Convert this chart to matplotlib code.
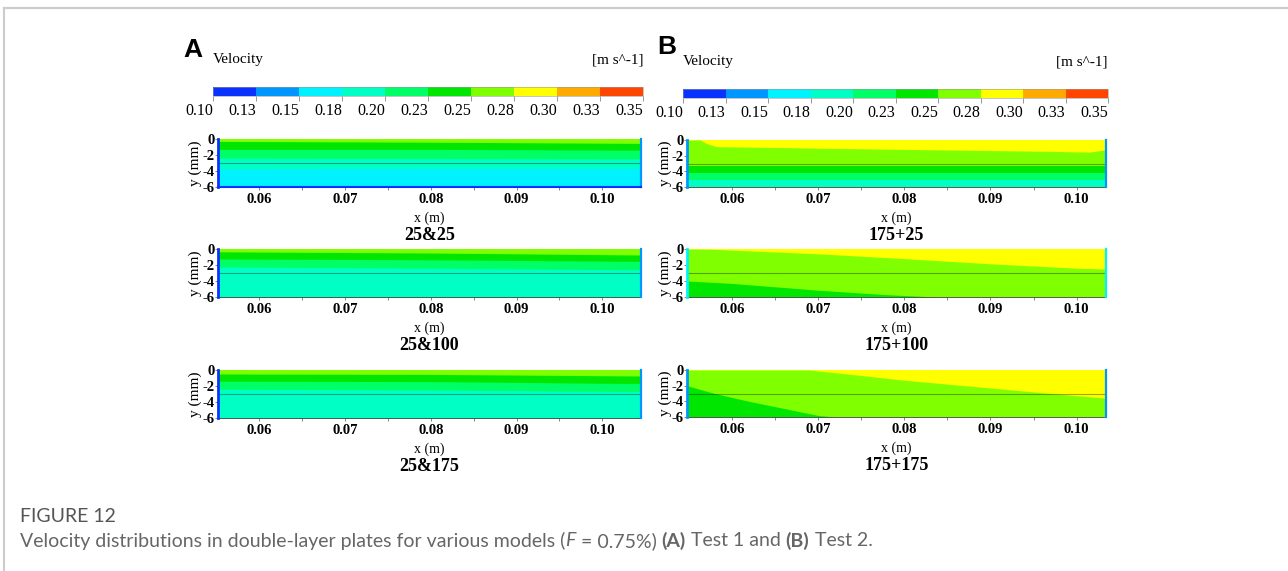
import matplotlib
matplotlib.use("Agg")
import matplotlib.pyplot as plt
from matplotlib.colors import ListedColormap, BoundaryNorm
from matplotlib.cm import ScalarMappable
from matplotlib.lines import Line2D

W, H = 1288, 571

# colour legend (10 bands, ANSYS style)
LEVELS = [0.10, 0.125, 0.15, 0.175, 0.20, 0.225, 0.25, 0.275, 0.30, 0.325, 0.35]
LEVEL_LABELS = ["0.10", "0.13", "0.15", "0.18", "0.20", "0.23",
                "0.25", "0.28", "0.30", "0.33", "0.35"]
BAND_COLORS = ["#0a32ff", "#0096ff", "#00f2ff", "#00ffc4", "#00ff66",
               "#00e600", "#80ff00", "#ffff00", "#ffaa00", "#ff4600"]

Y_TICKS = [0, -2, -4, -6]
Y_TICK_LABELS = ["0", "-2", "-4", "-6"]
X_TICKS = [0.06, 0.07, 0.08, 0.09, 0.10]
X_TICK_LABELS = ["0.06", "0.07", "0.08", "0.09", "0.10"]
X_MINOR = [0.065, 0.075, 0.085, 0.095]
INTERFACE_Y = -3.0
PLATE_Y = (0.0, -6.0)

# x extent of the plates
A_XRANGE = [0.0552, 0.1045]
B_XRANGE = [0.0548, 0.1034]

# band boundaries: (band below, x stations, y of boundary in mm)
A1_BOUNDS = [
    (5, [0.0552, 0.08, 0.1045], [-0.3, -0.4, -0.55]),
    (4, [0.0552, 0.08, 0.1045], [-1.3, -1.3, -1.4]),
    (3, [0.0552, 0.08, 0.1045], [-2.4, -2.45, -2.5]),
    (2, [0.0552, 0.08, 0.1045], [-3.75, -3.7, -3.7]),
]
A2_BOUNDS = [
    (5, [0.0552, 0.08, 0.1045], [-0.35, -0.5, -0.75]),
    (4, [0.0552, 0.08, 0.1045], [-1.25, -1.35, -1.55]),
    (3, [0.0552, 0.08, 0.1045], [-2.25, -2.4, -2.6]),
]
A3_BOUNDS = [
    (5, [0.0552, 0.08, 0.1045], [-0.5, -0.55, -0.75]),
    (4, [0.0552, 0.08, 0.1045], [-1.4, -1.45, -1.7]),
    (3, [0.0552, 0.08, 0.1045], [-2.4, -2.5, -2.7]),
]
B1_BOUNDS = [
    (6, [0.0548, 0.0563, 0.0572, 0.0582, 0.065, 0.07, 0.08, 0.09, 0.097, 0.1014, 0.1034],
        [0.0, 0.0, -0.5, -0.85, -0.95, -1.05, -1.2, -1.35, -1.45, -1.55, -1.25]),
    (5, [0.0548, 0.1034], [-3.35, -3.35]),
    (4, [0.0548, 0.1034], [-4.15, -4.15]),
    (3, [0.0548, 0.1034], [-5.05, -5.05]),
]
B2_BOUNDS = [
    (6, [0.0548, 0.058, 0.07, 0.08, 0.09, 0.10, 0.1034],
        [0.0, -0.05, -0.6, -1.2, -1.85, -2.4, -2.5]),
    (5, [0.0548, 0.06, 0.07, 0.0778, 0.0837],
        [-4.0, -4.3, -5.15, -5.7, -6.0]),
]
B3_BOUNDS = [
    (6, [0.0548, 0.069, 0.075, 0.08, 0.09, 0.097, 0.1034],
        [0.0, 0.0, -0.7, -1.3, -2.3, -3.0, -3.6]),
    (5, [0.0548, 0.058, 0.062, 0.066, 0.070, 0.072],
        [-2.0, -3.0, -4.0, -4.9, -5.8, -6.0]),
]

A_TITLES = ["25&25", "25&100", "25&175"]
B_TITLES = ["175+25", "175+100", "175+175"]

CAPTION_HEAD = "FIGURE 12"
CAPTION_PARTS = [
    ("Velocity distributions in double-layer plates for various models (", "normal", "normal"),
    ("F", "normal", "italic"),
    (" = 0.75%) ", "normal", "normal"),
    ("(A)", "bold", "normal"),
    (" Test 1 and ", "normal", "normal"),
    ("(B)", "bold", "normal"),
    (" Test 2.", "normal", "normal"),
]

SERIF = "Liberation Serif"
cmap = ListedColormap(BAND_COLORS)
norm = BoundaryNorm(LEVELS, cmap.N)


def px_rect(x0, y0, x1, y1):
    return [x0 / W, 1 - y1 / H, (x1 - x0) / W, (y1 - y0) / H]


def draw_colorbar(fig, rect, letter, letter_xy, label_y):
    cax = fig.add_axes(px_rect(*rect))
    cb = fig.colorbar(ScalarMappable(norm=norm, cmap=cmap), cax=cax,
                      orientation="horizontal", ticks=LEVELS)
    cb.outline.set_linewidth(0.4)
    cb.outline.set_edgecolor("#999999")
    cax.set_xticklabels(LEVEL_LABELS, fontfamily=SERIF, fontsize=11.5, ha="right")
    cax.tick_params(axis="x", length=3.5, width=0.6, color="#888888", pad=1.5)
    x0, y0, x1, y1 = rect
    fig.text(letter_xy[0] / W, 1 - letter_xy[1] / H, letter, fontsize=19,
             fontweight="bold", family="Liberation Sans", ha="center", va="center")
    fig.text(x0 / W, 1 - label_y / H, "Velocity", fontfamily=SERIF,
             fontsize=11, ha="left", va="center")
    fig.text(x1 / W, 1 - label_y / H, "[m s^-1]", fontfamily=SERIF,
             fontsize=11, ha="right", va="center")


def draw_plate(fig, rect, xrange_, bounds, title, walls, ylabel_x, bottom_wall=False):
    ax = fig.add_axes(px_rect(*rect))
    x0, x1 = xrange_
    ax.fill_between(xrange_, PLATE_Y[0], PLATE_Y[1], color=BAND_COLORS[6 if walls[0] == 0 else 7], lw=0)
    for band, xs, ys in bounds:
        ax.fill_between(xs, ys, PLATE_Y[1], color=BAND_COLORS[band], lw=0)
    ax.axhline(INTERFACE_Y, color="black", alpha=0.35, lw=0.8)
    ax.plot([x0, x0], PLATE_Y, color=BAND_COLORS[walls[0]], lw=2, clip_on=False, zorder=3)
    ax.plot([x1, x1], PLATE_Y, color=BAND_COLORS[walls[1]], lw=1.6, clip_on=False, zorder=3)
    if bottom_wall:
        ax.plot(xrange_, [PLATE_Y[1], PLATE_Y[1]], color=BAND_COLORS[0], lw=1.5,
                clip_on=False, zorder=3)

    ax.set_xlim(x0, x1)
    ax.set_ylim(PLATE_Y[1], PLATE_Y[0])
    for side in ["top", "right"]:
        ax.spines[side].set_visible(False)
    for side in ["left", "bottom"]:
        ax.spines[side].set_linewidth(0.6)
        ax.spines[side].set_color("#444444")

    ax.set_xticks(X_TICKS)
    ax.set_xticks(X_MINOR, minor=True)
    ax.set_xticklabels(X_TICK_LABELS, fontfamily=SERIF, fontweight="bold", fontsize=10.5)
    ax.set_yticks(Y_TICKS)
    ax.set_yticklabels(Y_TICK_LABELS, fontfamily=SERIF, fontweight="bold", fontsize=10.5)
    ax.tick_params(axis="x", which="both", length=2, width=0.5, color="#555555", pad=2.5)
    ax.tick_params(axis="y", length=2, width=0.5, color="#555555", pad=0.5)

    ax.set_ylabel("y (mm)", fontfamily=SERIF, fontsize=11)
    ax.yaxis.set_label_coords(ylabel_x, 0.5)
    ax.annotate("x (m)", xy=(0.5, 0), xycoords="axes fraction", xytext=(0, -31 * 0.72),
                textcoords="offset points", ha="center", va="center",
                fontfamily=SERIF, fontsize=10)
    ax.annotate(title, xy=(0.5, 0), xycoords="axes fraction", xytext=(0, -48.5 * 0.72),
                textcoords="offset points", ha="center", va="center",
                fontfamily=SERIF, fontsize=13, fontweight="bold")
    return ax


def draw_caption(fig):
    fig.text(20 / W, 1 - 517 / H, CAPTION_HEAD, family="Lato", fontsize=14,
             color="#555555", va="center", ha="left")
    renderer = fig.canvas.get_renderer()
    x = 20
    for text, weight, style in CAPTION_PARTS:
        t = fig.text(x / W, 1 - 541 / H, text, family="Lato", fontsize=14,
                     fontweight=weight, fontstyle=style, color="#666666",
                     va="center", ha="left")
        x = t.get_window_extent(renderer).x1


def main():
    fig = plt.figure(figsize=(W / 100, H / 100), dpi=100)

    # frame lines of the figure box
    fig.add_artist(Line2D([4 / W, 1], [1 - 8 / H, 1 - 8 / H], color="#cccccc", lw=1.5))
    fig.add_artist(Line2D([4 / W, 4 / W], [0, 1 - 8 / H], color="#cccccc", lw=1.5))

    draw_colorbar(fig, (213, 87, 643, 96), "A", (193, 50), 60)
    draw_colorbar(fig, (683, 89, 1108, 98), "B", (667, 47), 62)

    a_rows = [(139, 187), (249, 297), (370, 418)]
    b_rows = [(140, 187), (249, 297), (370, 417)]
    a_bounds = [A1_BOUNDS, A2_BOUNDS, A3_BOUNDS]
    b_bounds = [B1_BOUNDS, B2_BOUNDS, B3_BOUNDS]
    b_walls = [(1, 1), (2, 2), (1, 1)]

    for i in range(3):
        top, bottom = a_rows[i]
        draw_plate(fig, (218, top, 641, bottom), A_XRANGE, a_bounds[i], A_TITLES[i],
                   (0, 1), -0.038, bottom_wall=(i == 0))
        top, bottom = b_rows[i]
        draw_plate(fig, (687, top, 1106, bottom), B_XRANGE, b_bounds[i], B_TITLES[i],
                   b_walls[i], -0.036)

    draw_caption(fig)
    fig.savefig("out.png", dpi=100)
    plt.close(fig)


if __name__ == "__main__":
    main()
